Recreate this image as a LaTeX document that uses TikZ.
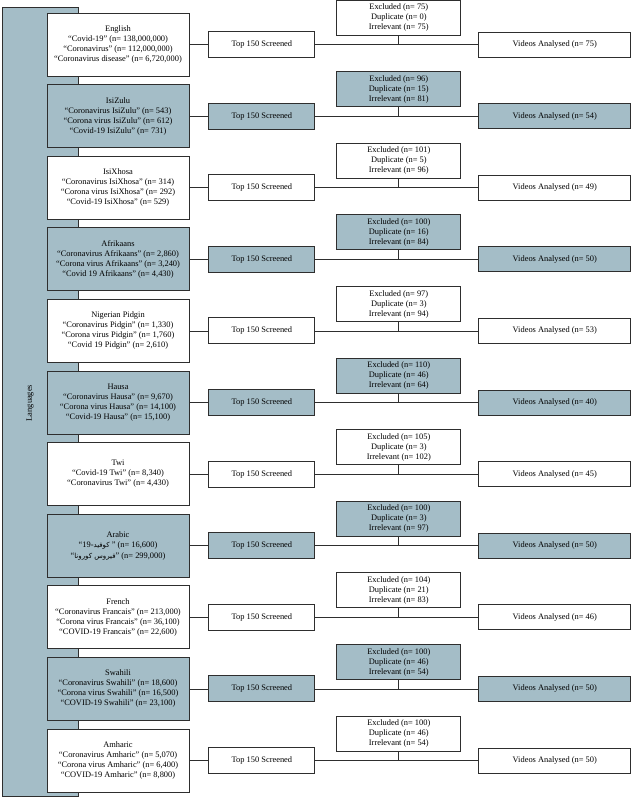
\documentclass[tikz,border=0pt]{standalone}
\usepackage{fontspec}
\setmainfont{Liberation Serif}
\newfontfamily\arabicfont[Script=Arabic]{DejaVu Sans}
\TeXXeTstate=1
\usetikzlibrary{positioning}
\definecolor{boxblue}{HTML}{A4BDC7}
\definecolor{boxline}{HTML}{2E2E2E}

\begin{document}
\begin{tikzpicture}[x=1pt,y=1pt,node distance=71.6pt,
	font=\fontsize{8.4}{10}\selectfont,
	box/.style = {draw=boxline, line width=0.9pt, fill=white, inner sep=0pt, align=center},
	lang node/.style = {box, minimum width=142pt, minimum height=63pt},
	scr node/.style = {box, minimum width=106pt, minimum height=26pt},
	excl node/.style = {box, minimum width=124pt, minimum height=35pt},
	vid node/.style = {box, minimum width=152pt, minimum height=25pt},
	shaded/.style = {fill=boxblue},
	link/.style = {draw=boxline, line width=0.7pt}]
	
	\useasboundingbox (0,0) rectangle (630,-798);
	
	\node[box,shaded,minimum width=76pt,minimum height=789pt] (col) at (40,-401.5) {};
	\node[rotate=90] (langs) at (30,-403) {Languages};
	
	% language boxes
	\node[lang node] (l1) at (118,-44.5) {English\\“Covid-19” (n= 138,000,000)\\“Coronavirus” (n= 112,000,000)\\“Coronavirus disease” (n= 6,720,000)};
	\node[lang node,shaded] [below of = l1] (l2) {IsiZulu\\“Coronavirus IsiZulu” (n= 543)\\“Corona virus IsiZulu” (n= 612)\\“Covid-19 IsiZulu” (n= 731)};
	\node[lang node] [below of = l2] (l3) {IsiXhosa\\“Coronavirus IsiXhosa” (n= 314)\\“Corona virus IsiXhosa” (n= 292)\\“Covid-19 IsiXhosa” (n= 529)};
	\node[lang node,shaded] [below of = l3] (l4) {Afrikaans\\“Coronavirus Afrikaans” (n= 2,860)\\“Corona virus Afrikaans” (n= 3,240)\\“Covid 19 Afrikaans” (n= 4,430)};
	\node[lang node] [below of = l4] (l5) {Nigerian Pidgin\\“Coronavirus Pidgin” (n= 1,330)\\“Corona virus Pidgin” (n= 1,760)\\“Covid 19 Pidgin” (n= 2,610)};
	\node[lang node,shaded] [below of = l5] (l6) {Hausa\\“Coronavirus Hausa” (n= 9,670)\\“Corona virus Hausa” (n= 14,100)\\“Covid-19 Hausa” (n= 15,100)};
	\node[lang node] [below of = l6] (l7) {Twi\\“Covid-19 Twi” (n= 8,340)\\“Coronavirus Twi” (n= 4,430)};
	\node[lang node,shaded] [below of = l7] (l8) {Arabic\\“19-{\arabicfont\fontsize{7}{9}\selectfont\beginR كوفيد\endR} ” (n= 16,600)\\[1pt]“{\arabicfont\fontsize{7}{9}\selectfont\beginR فيروس كورونا\endR}” (n= 299,000)};
	\node[lang node] [below of = l8] (l9) {French\\“Coronavirus Francais” (n= 213,000)\\“Corona virus Francais” (n= 36,100)\\“COVID-19 Francais” (n= 22,600)};
	\node[lang node,shaded] [below of = l9] (l10) {Swahili\\“Coronavirus Swahili” (n= 18,600)\\“Corona virus Swahili” (n= 16,500)\\“COVID-19 Swahili” (n= 23,100)};
	\node[lang node] [below of = l10] (l11) {Amharic\\“Coronavirus Amharic” (n= 5,070)\\“Corona virus Amharic” (n= 6,400)\\“COVID-19 Amharic” (n= 8,800)};
	
	% screening
	\node[scr node] [right=19pt of l1] (s1) {Top 150 Screened};
	\node[scr node,shaded] [right=19pt of l2] (s2) {Top 150 Screened};
	\node[scr node] [right=19pt of l3] (s3) {Top 150 Screened};
	\node[scr node,shaded] [right=19pt of l4] (s4) {Top 150 Screened};
	\node[scr node] [right=19pt of l5] (s5) {Top 150 Screened};
	\node[scr node,shaded] [right=19pt of l6] (s6) {Top 150 Screened};
	\node[scr node] [right=19pt of l7] (s7) {Top 150 Screened};
	\node[scr node,shaded] [right=19pt of l8] (s8) {Top 150 Screened};
	\node[scr node] [right=19pt of l9] (s9) {Top 150 Screened};
	\node[scr node,shaded] [right=19pt of l10] (s10) {Top 150 Screened};
	\node[scr node] [right=19pt of l11] (s11) {Top 150 Screened};
	
	% exclusions
	\node[excl node] [above right=-4.5pt and 21pt of s1] (e1) {Excluded (n= 75)\\Duplicate (n= 0)\\Irrelevant (n= 75)};
	\node[excl node,shaded] [above right=-4.5pt and 21pt of s2] (e2) {Excluded (n= 96)\\Duplicate (n= 15)\\Irrelevant (n= 81)};
	\node[excl node] [above right=-4.5pt and 21pt of s3] (e3) {Excluded (n= 101)\\Duplicate (n= 5)\\Irrelevant (n= 96)};
	\node[excl node,shaded] [above right=-4.5pt and 21pt of s4] (e4) {Excluded (n= 100)\\Duplicate (n= 16)\\Irrelevant (n= 84)};
	\node[excl node] [above right=-4.5pt and 21pt of s5] (e5) {Excluded (n= 97)\\Duplicate (n= 3)\\Irrelevant (n= 94)};
	\node[excl node,shaded] [above right=-4.5pt and 21pt of s6] (e6) {Excluded (n= 110)\\Duplicate (n= 46)\\Irrelevant (n= 64)};
	\node[excl node] [above right=-4.5pt and 21pt of s7] (e7) {Excluded (n= 105)\\Duplicate (n= 3)\\Irrelevant (n= 102)};
	\node[excl node,shaded] [above right=-4.5pt and 21pt of s8] (e8) {Excluded (n= 100)\\Duplicate (n= 3)\\Irrelevant (n= 97)};
	\node[excl node] [above right=-4.5pt and 21pt of s9] (e9) {Excluded (n= 104)\\Duplicate (n= 21)\\Irrelevant (n= 83)};
	\node[excl node,shaded] [above right=-4.5pt and 21pt of s10] (e10) {Excluded (n= 100)\\Duplicate (n= 46)\\Irrelevant (n= 54)};
	\node[excl node] [above right=-4.5pt and 21pt of s11] (e11) {Excluded (n= 100)\\Duplicate (n= 46)\\Irrelevant (n= 54)};
	
	% analysed
	\node[vid node] [right=163pt of s1] (v1) {Videos Analysed (n= 75)};
	\node[vid node,shaded] [right=163pt of s2] (v2) {Videos Analysed (n= 54)};
	\node[vid node] [right=163pt of s3] (v3) {Videos Analysed (n= 49)};
	\node[vid node,shaded] [right=163pt of s4] (v4) {Videos Analysed (n= 50)};
	\node[vid node] [right=163pt of s5] (v5) {Videos Analysed (n= 53)};
	\node[vid node,shaded] [right=163pt of s6] (v6) {Videos Analysed (n= 40)};
	\node[vid node] [right=163pt of s7] (v7) {Videos Analysed (n= 45)};
	\node[vid node,shaded] [right=163pt of s8] (v8) {Videos Analysed (n= 50)};
	\node[vid node] [right=163pt of s9] (v9) {Videos Analysed (n= 46)};
	\node[vid node,shaded] [right=163pt of s10] (v10) {Videos Analysed (n= 50)};
	\node[vid node] [right=163pt of s11] (v11) {Videos Analysed (n= 50)};
	
	\draw[link] (l1)--(s1)--(v1) (e1)--(e1 |- s1);
	\draw[link] (l2)--(s2)--(v2) (e2)--(e2 |- s2);
	\draw[link] (l3)--(s3)--(v3) (e3)--(e3 |- s3);
	\draw[link] (l4)--(s4)--(v4) (e4)--(e4 |- s4);
	\draw[link] (l5)--(s5)--(v5) (e5)--(e5 |- s5);
	\draw[link] (l6)--(s6)--(v6) (e6)--(e6 |- s6);
	\draw[link] (l7)--(s7)--(v7) (e7)--(e7 |- s7);
	\draw[link] (l8)--(s8)--(v8) (e8)--(e8 |- s8);
	\draw[link] (l9)--(s9)--(v9) (e9)--(e9 |- s9);
	\draw[link] (l10)--(s10)--(v10) (e10)--(e10 |- s10);
	\draw[link] (l11)--(s11)--(v11) (e11)--(e11 |- s11);
\end{tikzpicture}
\end{document}
